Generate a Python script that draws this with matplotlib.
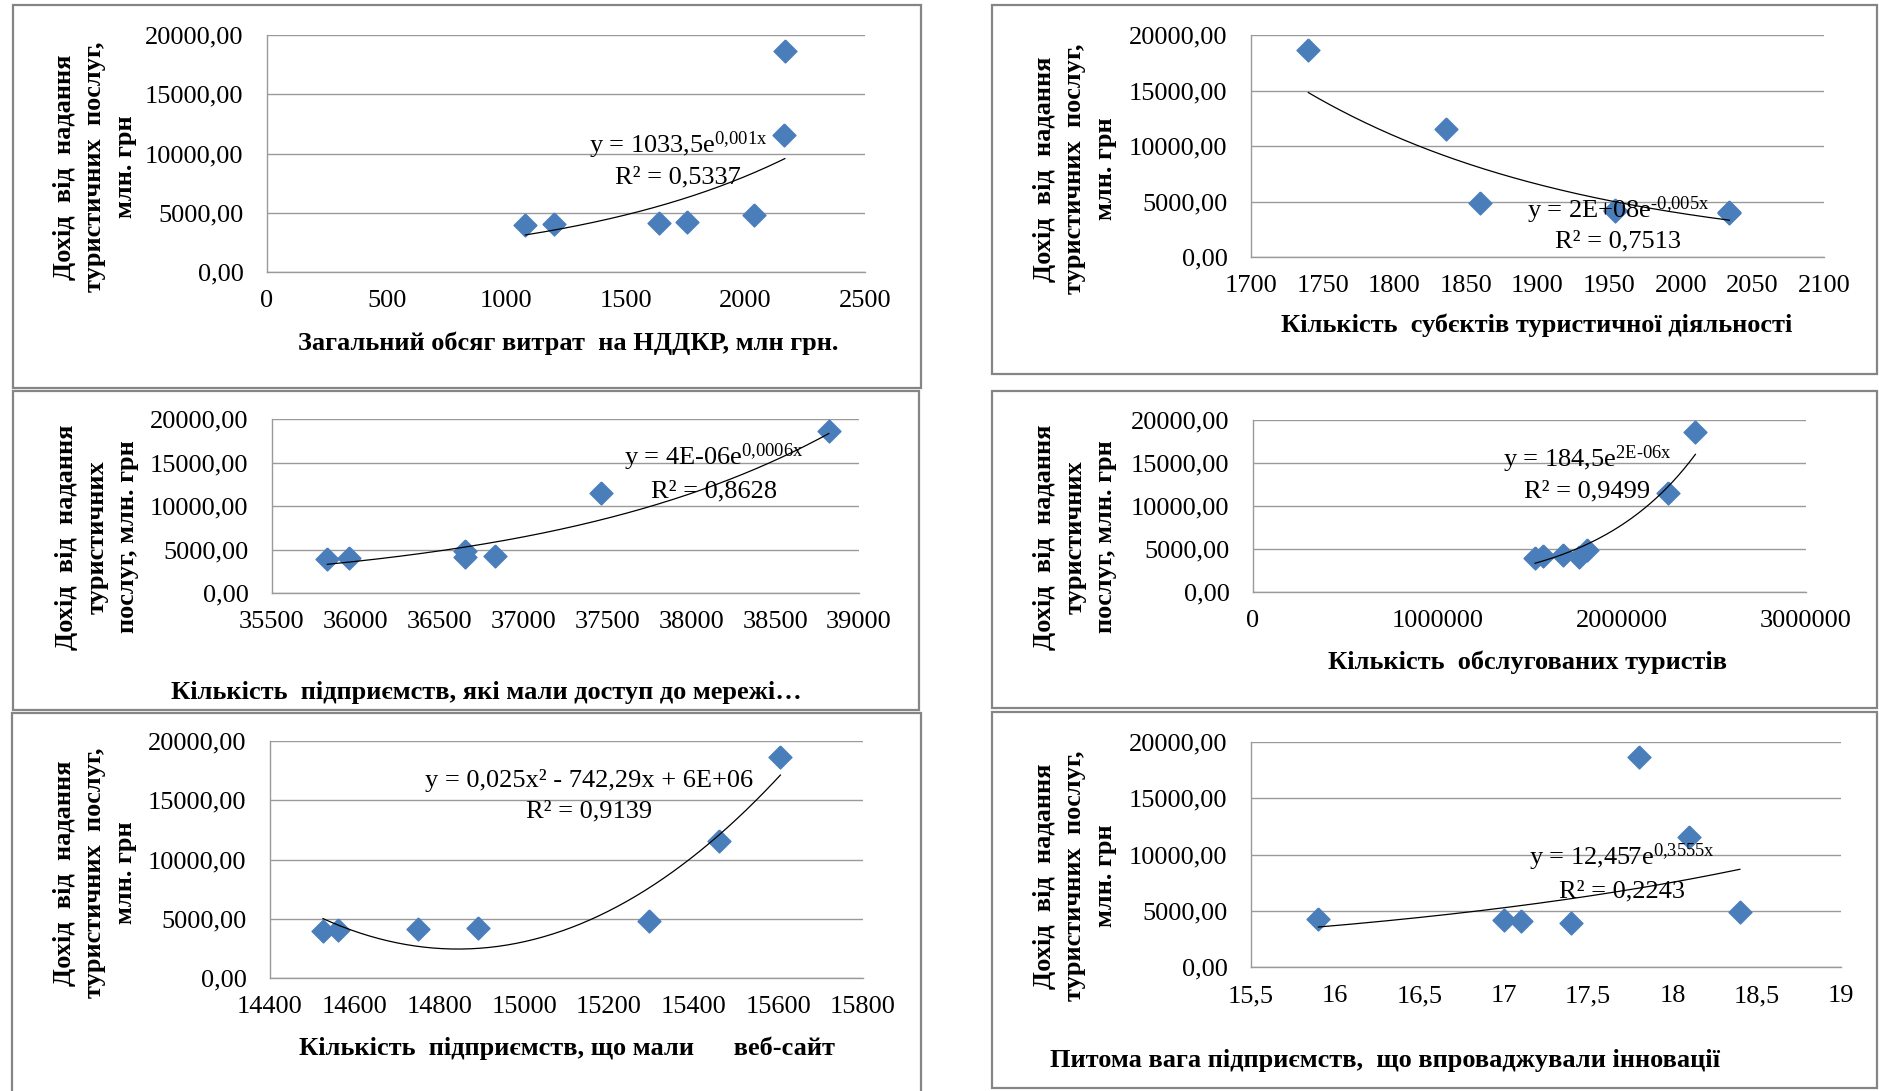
import matplotlib
matplotlib.use("Agg")
import matplotlib.pyplot as plt
import numpy as np
from matplotlib.patches import Rectangle

plt.rcParams['font.family'] = ['Liberation Serif', 'DejaVu Serif']
plt.rcParams['mathtext.fontset'] = 'custom'
plt.rcParams['mathtext.rm'] = 'Liberation Serif'
plt.rcParams['mathtext.it'] = 'Liberation Serif'

W, H = 1879, 1091

# ---- дані ----
x_nddkr = [1080, 1200, 1640, 1755, 2035, 2160, 2165]
y_nddkr = [3950, 4050, 4150, 4250, 4850, 11550, 18650]

x_subj = [1740, 1836, 1860, 1954, 1954, 2034, 2034]
y_subj = [18650, 11550, 4850, 4250, 4150, 4050, 3950]

x_merezha = [35830, 35960, 36650, 36650, 36830, 37460, 38820]
y_merezha = [3950, 4050, 4150, 4850, 4250, 11550, 18650]

x_turysty = [1530000, 1575000, 1680000, 1770000, 1810000, 2250000, 2400000]
y_turysty = [3950, 4150, 4250, 4050, 4850, 11550, 18650]

x_sait = [14525, 14560, 14750, 14890, 15295, 15460, 15605]
y_sait = [3950, 4050, 4150, 4250, 4850, 11550, 18650]

x_innov = [15.9, 17.0, 17.1, 17.4, 17.8, 18.1, 18.4]
y_innov = [4250, 4150, 4050, 3950, 18650, 11550, 4850]

ylab3 = "Дохід  від  надання\nтуристичних  послуг,\nмлн. грн"
ylab3b = "Дохід  від  надання\nтуристичних\nпослуг, млн. грн"

HY = "\u2010"  # дефіс у показнику степеня

panels = [
    dict(x=x_nddkr, y=y_nddkr, xlabel="Загальний обсяг витрат  на НДДКР, млн грн.",
         xlim=(0, 2500), xstep=500, kind="exp",
         eq=r"y = 1033,5e$^{\mathrm{0{,}001x}}$", r2="R² = 0,5337", ylab=ylab3,
         ax_px=(267, 35, 865, 272), eq_px=(678, 153, 183), xl_px=(568, 343), yl_px=(95, 167),
         box=(13, 5, 921, 388)),
    dict(x=x_subj, y=y_subj, xlabel="Кількість  субєктів туристичної діяльності",
         xlim=(1700, 2100), xstep=50, kind="exp",
         eq=r"y = 2E+08e$^{\mathrm{" + HY + r"0{,}005x}}$", r2="R² = 0,7513", ylab=ylab3,
         ax_px=(1251, 35, 1824, 257), eq_px=(1618, 218, 247), xl_px=(1537, 325), yl_px=(1075, 169),
         box=(992, 5, 1877, 374)),
    dict(x=x_merezha, y=y_merezha, xlabel="Кількість  підприємств, які мали доступ до мережі…",
         xlim=(35500, 39000), xstep=500, kind="exp",
         eq=r"y = 4E-06e$^{\mathrm{0{,}0006x}}$", r2="R² = 0,8628", ylab=ylab3b,
         ax_px=(272, 419, 859, 593), eq_px=(714, 465, 497), xl_px=(486, 693), yl_px=(97, 537),
         box=(13, 391, 919, 710)),
    dict(x=x_turysty, y=y_turysty, xlabel="Кількість  обслугованих туристів",
         xlim=(0, 3000000), xstep=1000000, kind="exp",
         eq=r"y = 184,5e$^{\mathrm{2E" + HY + r"06x}}$", r2="R² = 0,9499", ylab=ylab3b,
         ax_px=(1253, 420, 1806, 592), eq_px=(1587, 467, 497), xl_px=(1528, 662), yl_px=(1075, 537),
         box=(992, 391, 1877, 708)),
    dict(x=x_sait, y=y_sait, xlabel="Кількість  підприємств, що мали      веб-сайт",
         xlim=(14400, 15800), xstep=200, kind="poly2",
         eq="y = 0,025x² - 742,29x + 6E+06", r2="R² = 0,9139", ylab=ylab3,
         ax_px=(270, 741, 863, 978), eq_px=(589, 787, 817), xl_px=(567, 1048), yl_px=(95, 873),
         box=(12, 713, 921, 1100)),
    dict(x=x_innov, y=y_innov, xlabel="Питома вага підприємств,  що впроваджували інновації",
         xlim=(15.5, 19), xstep=0.5, kind="exp",
         eq=r"y = 12,457e$^{\mathrm{0{,}3555x}}$", r2="R² = 0,2243", ylab=ylab3,
         ax_px=(1251, 742, 1841, 967), eq_px=(1622, 865, 897), xl_px=(1385, 1060), yl_px=(1075, 876),
         box=(992, 712, 1877, 1088)),
]

diamond = [(0, 1), (1, 0), (0, -1), (-1, 0), (0, 1)]
BLUE = "#4A7EBB"
GRID = "#9A9A9A"


def fx(px):
    return px / W


def fy(py):
    return 1 - py / H


def xfmt(v):
    if float(v).is_integer():
        return "%d" % v
    return ("%g" % v).replace(".", ",")


fig = plt.figure(figsize=(W / 100, H / 100), dpi=100)

for p in panels:
    # рамка діаграми
    bx0, by0, bx1, by1 = p["box"]
    fig.patches.append(Rectangle((fx(bx0), fy(by1)), (bx1 - bx0) / W, (by1 - by0) / H,
                                 transform=fig.transFigure, fill=False, ec="#858585", lw=1.6))

    x0, y0, x1, y1 = p["ax_px"]
    ax = fig.add_axes([fx(x0), fy(y1), (x1 - x0) / W, (y1 - y0) / H])
    x = np.array(p["x"], float); y = np.array(p["y"], float)

    ax.set_ylim(0, 20000); ax.set_xlim(*p["xlim"])
    ax.set_yticks(np.arange(0, 20001, 5000))
    ax.set_yticklabels([("%.2f" % t).replace(".", ",") for t in np.arange(0, 20001, 5000)])
    xt = np.arange(p["xlim"][0], p["xlim"][1] + p["xstep"] / 2, p["xstep"])
    ax.set_xticks(xt); ax.set_xticklabels([xfmt(t) for t in xt])
    ax.tick_params(length=0, labelsize=19)
    ax.tick_params(axis="y", pad=17); ax.tick_params(axis="x", pad=13)
    ax.grid(True, axis="y", color=GRID, lw=1.0)
    ax.set_axisbelow(True)
    for s in ("top", "right"):
        ax.spines[s].set_visible(False)
    for s in ("left", "bottom"):
        ax.spines[s].set_color(GRID); ax.spines[s].set_linewidth(1.0)

    ax.plot(x, y, ls="none", marker=diamond, ms=16.5, color=BLUE, mec=BLUE, zorder=3)

    # лінія тренду (підбір за даними, як в Excel)
    xs = np.linspace(x.min(), x.max(), 200)
    if p["kind"] == "exp":
        b, a = np.polyfit(x, np.log(y), 1)
        ys = np.exp(a) * np.exp(b * xs)
    else:
        ys = np.polyval(np.polyfit(x, y, 2), xs)
    ax.plot(xs, ys, color="black", lw=0.9, zorder=4)

    ex, eb1, eb2 = p["eq_px"]
    fig.text(fx(ex), fy(eb1), p["eq"], ha="center", va="baseline", fontsize=19, zorder=5)
    fig.text(fx(ex), fy(eb2), p["r2"], ha="center", va="baseline", fontsize=19, zorder=5)

    fig.text(fx(p["xl_px"][0]), fy(p["xl_px"][1]), p["xlabel"], ha="center", va="center",
             fontsize=19, fontweight="bold")
    fig.text(fx(p["yl_px"][0]), fy(p["yl_px"][1]), p["ylab"], ha="center", va="center",
             rotation=90, fontsize=19, fontweight="bold", multialignment="center", linespacing=1.4)

fig.savefig("out.png", dpi=100)
